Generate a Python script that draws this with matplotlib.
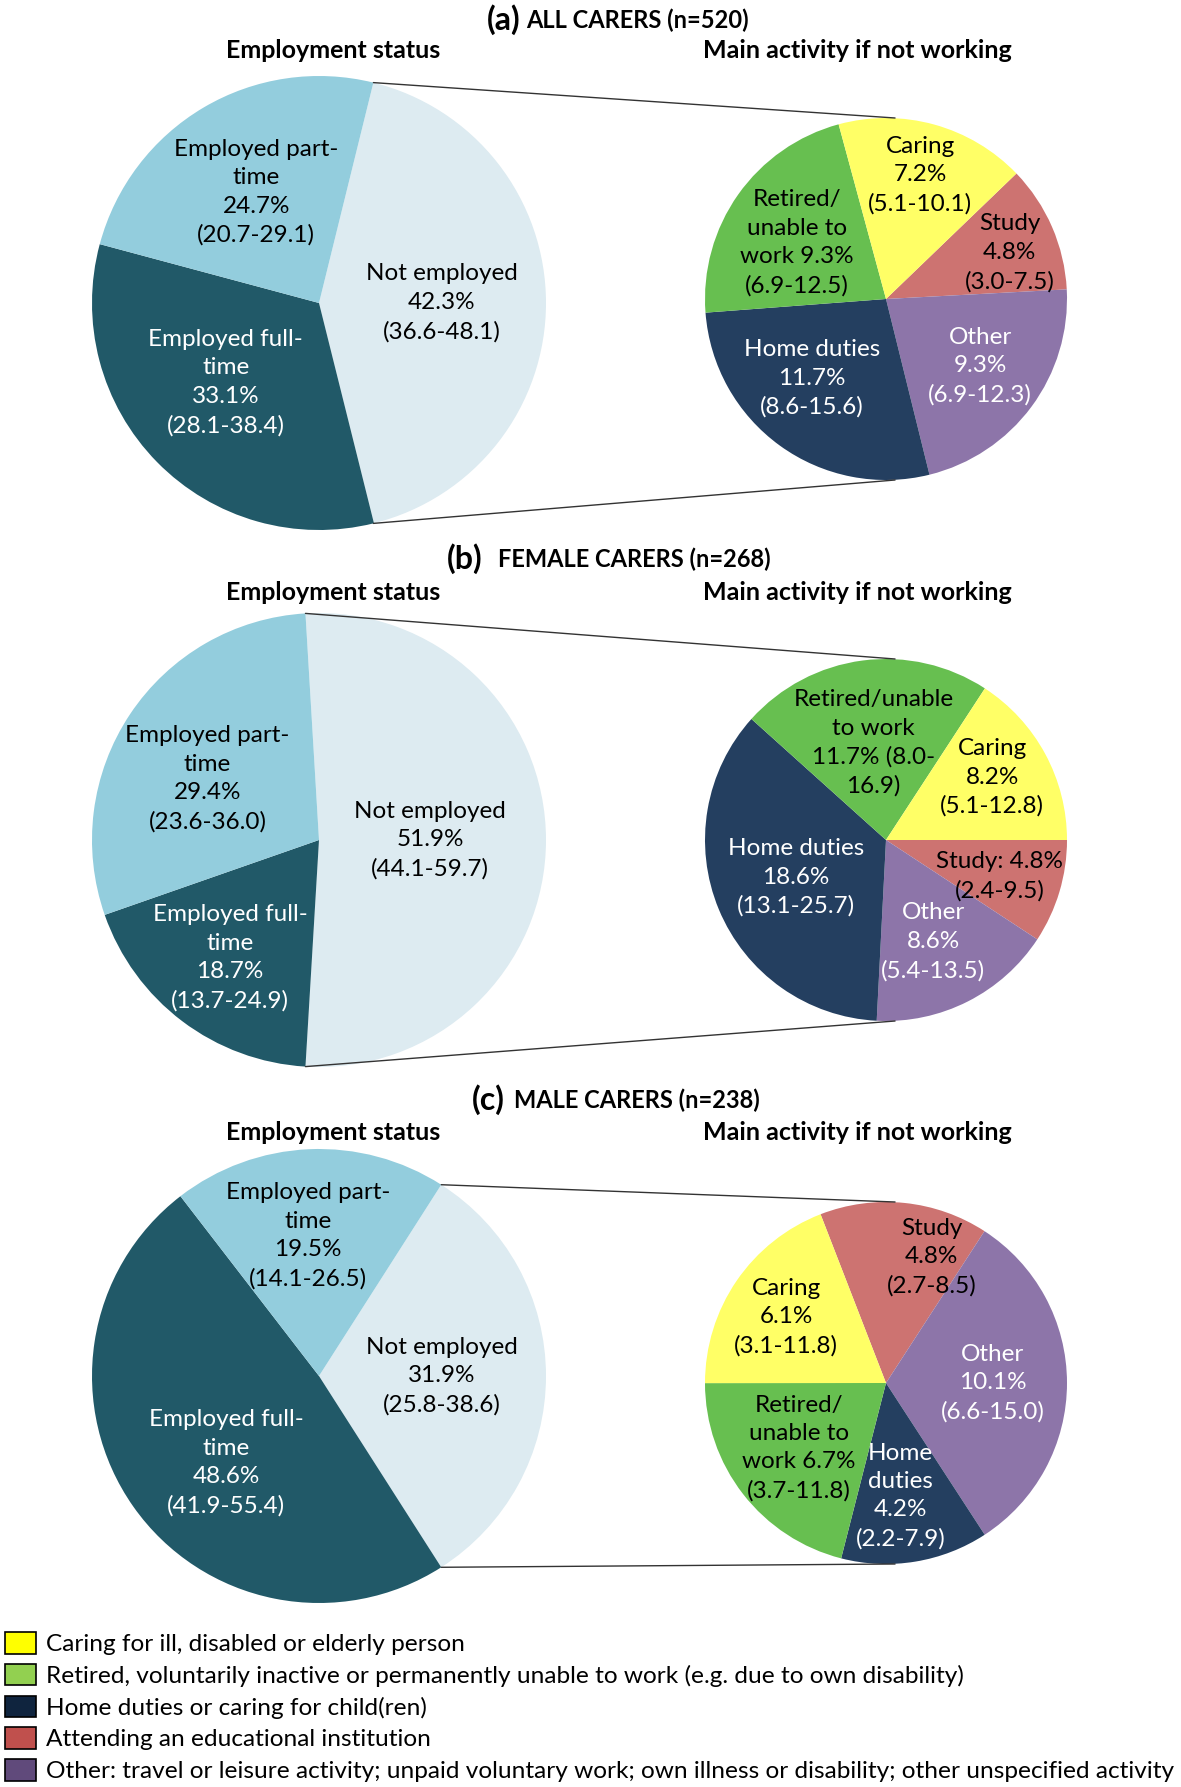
import matplotlib
matplotlib.use("Agg")
import matplotlib.pyplot as plt
from matplotlib.patches import ConnectionPatch, Patch
import numpy as np

plt.rcParams['font.family'] = ['Lato', 'DejaVu Sans']

# ---- data ----
panel_tags = ["(a)", "(b)", "(c)"]
panel_titles = ["ALL CARERS (n=520)", "FEMALE CARERS (n=268)", "MALE CARERS (n=238)"]

# employment status: Not employed, Employed full-time, Employed part-time
emp_names = ["Not employed", "Employed full-\ntime", "Employed part-\ntime"]
emp_pct = [[42.3, 33.1, 24.7],
           [51.9, 18.7, 29.4],
           [31.9, 48.6, 19.5]]
emp_lo = [[36.6, 28.1, 20.7],
          [44.1, 13.7, 23.6],
          [25.8, 41.9, 14.1]]
emp_hi = [[48.1, 38.4, 29.1],
          [59.7, 24.9, 36.0],
          [38.6, 55.4, 26.5]]

# main activity if not working: Study, Other, Home duties, Retired, Caring
act_pct = [[4.8, 9.3, 11.7, 9.3, 7.2],
           [4.8, 8.6, 18.6, 11.7, 8.2],
           [4.8, 10.1, 4.2, 6.7, 6.1]]
act_lo = [[3.0, 6.9, 8.6, 6.9, 5.1],
          [2.4, 5.4, 13.1, 8.0, 5.1],
          [2.7, 6.6, 2.2, 3.7, 3.1]]
act_hi = [[7.5, 12.3, 15.6, 12.5, 10.1],
          [9.5, 13.5, 25.7, 16.9, 12.8],
          [8.5, 15.0, 7.9, 11.8, 11.8]]
act_fmt = [
    ["Study\n{v}%\n({lo}-{hi})", "Other\n{v}%\n({lo}-{hi})", "Home duties\n{v}%\n({lo}-{hi})",
     "Retired/\nunable to\nwork {v}%\n({lo}-{hi})", "Caring\n{v}%\n({lo}-{hi})"],
    ["Study: {v}%\n({lo}-{hi})", "Other\n{v}%\n({lo}-{hi})", "Home duties\n{v}%\n({lo}-{hi})",
     "Retired/unable\nto work\n{v}% ({lo}-\n{hi})", "Caring\n{v}%\n({lo}-{hi})"],
    ["Study\n{v}%\n({lo}-{hi})", "Other\n{v}%\n({lo}-{hi})", "Home\nduties\n{v}%\n({lo}-{hi})",
     "Retired/\nunable to\nwork {v}%\n({lo}-{hi})", "Caring\n{v}%\n({lo}-{hi})"],
]

legend_labels = ["Caring for ill, disabled or elderly person",
                 "Retired, voluntarily inactive or permanently unable to work (e.g. due to own disability)",
                 "Home duties or caring for child(ren)",
                 "Attending an educational institution",
                 "Other: travel or leisure activity; unpaid voluntary work; own illness or disability; other unspecified activity"]

# ---- styles / layout ----
emp_colors = ["#DDEBF1", "#215968", "#93CDDD"]
emp_text = ["black", "white", "black"]
act_colors = ["#CD7371", "#8D75A9", "#243F60", "#67BF50", "#FFFF66"]
act_text = ["black", "white", "white", "black", "black"]
legend_colors = ["#FFFF00", "#92D050", "#0F243E", "#C0504D", "#604A7B"]
act_start = [43.9, 0.0, 111.2]

# label placement: (distance from centre in radii, angle shift in degrees)
emp_dist = [[0.54, 0.54, 0.56], [0.49, 0.65, 0.56], [0.54, 0.56, 0.62]]
emp_shift = [[0, -4, -1], [0, 0, 5], [0, 8, 2]]
act_dist = [[0.73, 0.64, 0.60, 0.58, 0.71],
            [0.66, 0.62, 0.54, 0.54, 0.68],
            [0.74, 0.59, 0.63, 0.60, 0.66]]
act_shift = [[-3, 1, -7, 3, 0],
             [-1, -2, 0, 0, 2],
             [-14, 0, -2, -1, 1]]

W, H = 1181, 1787
fig = plt.figure(figsize=(W / 100, H / 100), dpi=100)

left_cx, left_r = 319, 227
right_cx, right_r = 886, 181
left_cy = [303, 840, 1376]
right_cy = [299, 840, 1383]
title_y = [20, 559, 1100]
tag_x = [520, 482, 505]
title_x = [526, 498, 514]
sub_y = [51, 592, 1132]
fs = 17.5


def make_ax(cx, cy, r):
    ax = fig.add_axes([(cx - r) / W, 1 - (cy + r) / H, 2 * r / W, 2 * r / H])
    ax.axis('off')
    return ax


def put_labels(ax, wedges, texts, colors, dist, shift):
    for w, t, c, d, s in zip(wedges, texts, colors, dist, shift):
        mid = np.deg2rad((w.theta1 + w.theta2) / 2 + s)
        ax.text(d * np.cos(mid), d * np.sin(mid), t, ha='center', va='center',
                ma='center', color=c, fontsize=fs, linespacing=1.44)


for i in range(3):
    # headings
    fig.text(tag_x[i] / W, 1 - title_y[i] / H, panel_tags[i], ha='right', va='center',
             fontsize=23, fontweight='bold')
    fig.text(title_x[i] / W, 1 - title_y[i] / H, panel_titles[i], ha='left', va='center',
             fontsize=17, fontweight='bold')
    fig.text(333 / W, 1 - sub_y[i] / H, "Employment status", ha='center', va='center',
             fontsize=18, fontweight='bold')
    fig.text(857 / W, 1 - sub_y[i] / H, "Main activity if not working", ha='center', va='center',
             fontsize=18, fontweight='bold')

    # employment pie
    axL = make_ax(left_cx, left_cy[i], left_r)
    start = emp_pct[i][0] / 100 * 360 / 2
    wl, _ = axL.pie(emp_pct[i], colors=emp_colors, startangle=start, counterclock=False,
                    radius=1, wedgeprops=dict(linewidth=0))
    axL.set_xlim(-1, 1)
    axL.set_ylim(-1, 1)
    lab = ["%s\n%.1f%%\n(%.1f-%.1f)" % (n, v, lo, hi)
           for n, v, lo, hi in zip(emp_names, emp_pct[i], emp_lo[i], emp_hi[i])]
    put_labels(axL, wl, lab, emp_text, emp_dist[i], emp_shift[i])

    # activity pie
    axR = make_ax(right_cx, right_cy[i], right_r)
    wr, _ = axR.pie(act_pct[i], colors=act_colors, startangle=act_start[i], counterclock=False,
                    radius=1, wedgeprops=dict(linewidth=0))
    axR.set_xlim(-1, 1)
    axR.set_ylim(-1, 1)
    lab = [f.format(v="%.1f" % v, lo="%.1f" % lo, hi="%.1f" % hi)
           for f, v, lo, hi in zip(act_fmt[i], act_pct[i], act_lo[i], act_hi[i])]
    put_labels(axR, wr, lab, act_text, act_dist[i], act_shift[i])

    # connector lines
    a1 = np.deg2rad(start)
    a2 = np.deg2rad(start - emp_pct[i][0] / 100 * 360)
    for a, yb in [(a1, 1), (a2, -1)]:
        con = ConnectionPatch(xyA=(np.cos(a), np.sin(a)), coordsA=axL.transData,
                              xyB=(0.05, yb), coordsB=axR.transData, color='#333333', lw=1)
        fig.add_artist(con)

handles = [Patch(facecolor=c, edgecolor='black', linewidth=1.2) for c in legend_colors]
fig.legend(handles, legend_labels, loc='lower left', bbox_to_anchor=(0.0, 0.0),
           frameon=False, fontsize=17.6, handlelength=1.27, handleheight=0.98,
           handletextpad=0.4, labelspacing=0.35, borderaxespad=0.1, borderpad=0.1)

fig.savefig("out.png", dpi=100)
